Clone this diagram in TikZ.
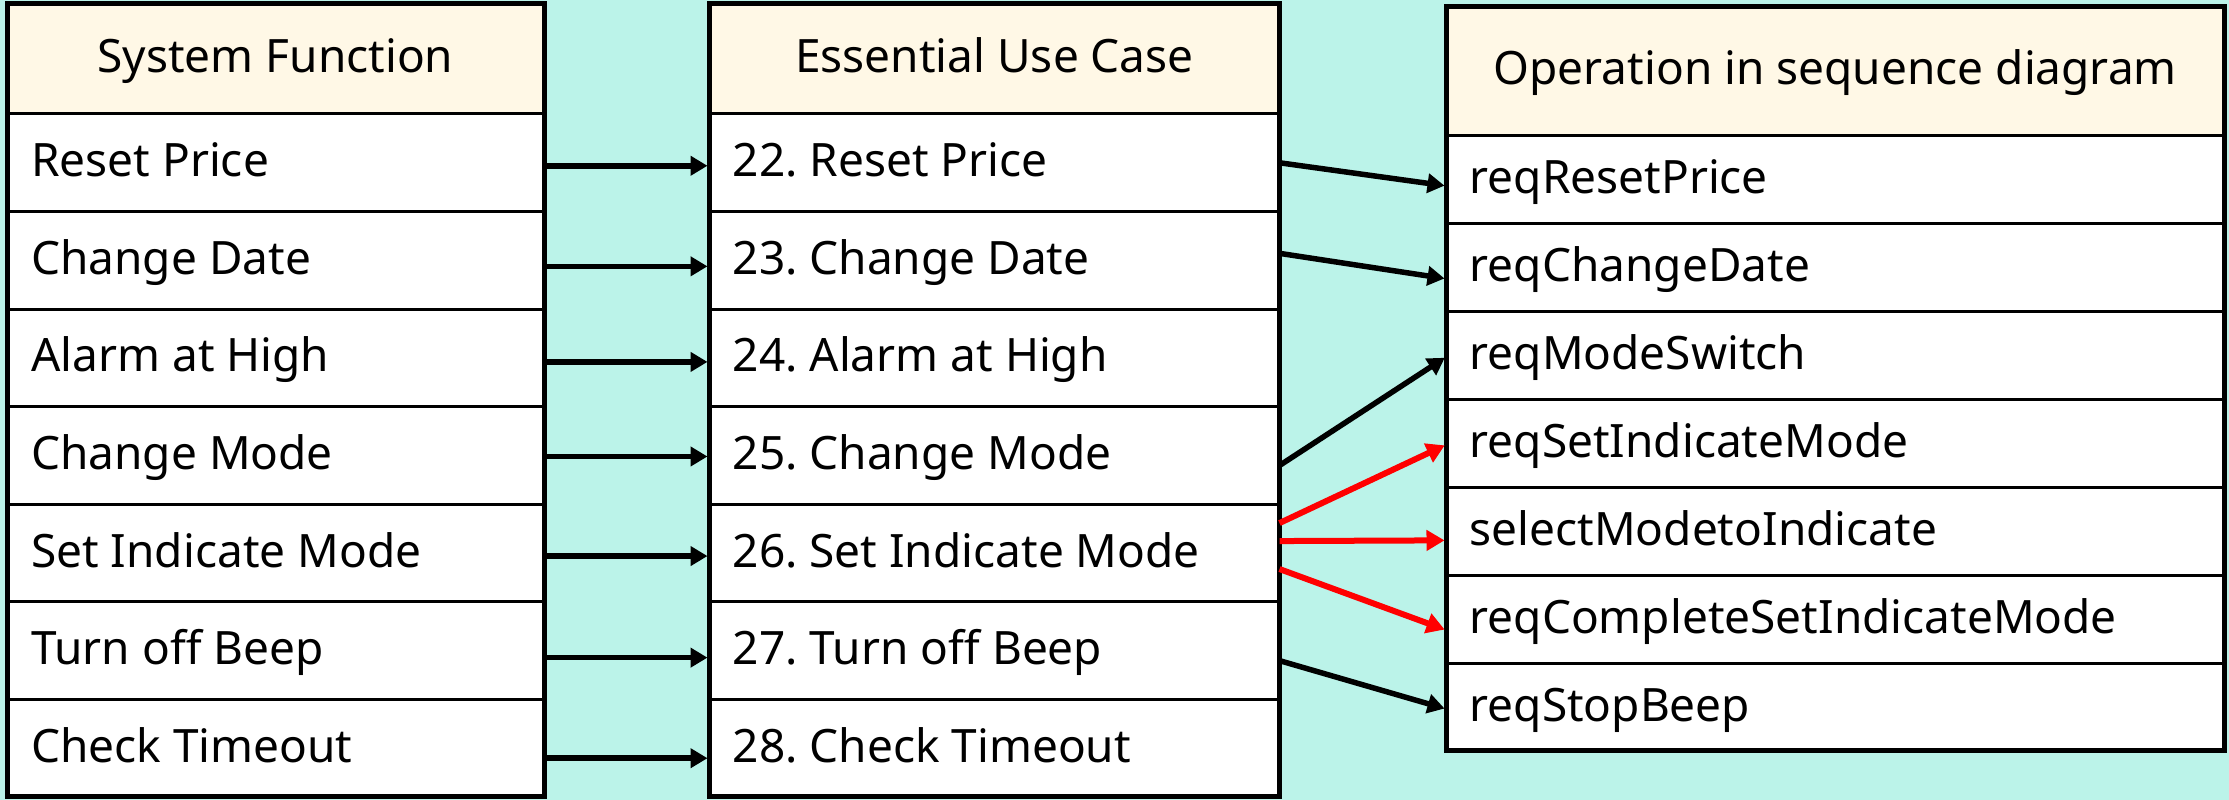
\documentclass[tikz,border=0pt]{standalone}
\usepackage{fontspec}
\setmainfont{Noto Sans}
\usetikzlibrary{arrows.meta,calc}
\definecolor{bgc}{RGB}{187,243,233}
\definecolor{hdr}{RGB}{255,248,230}
\definecolor{redarrow}{RGB}{255,0,0}
\newcommand{\cellfont}{\fontsize{46}{55}\selectfont\frenchspacing}
\begin{document}
\begin{tikzpicture}[x=1pt,y=1pt,
  cell/.style={draw=black, line width=3pt, fill=white, outer sep=0pt, inner sep=0pt, anchor=north west},
  hcell/.style={cell, fill=hdr},
  celltext/.style={font=\cellfont, inner sep=0pt, anchor=base west},
  headtext/.style={font=\cellfont, inner sep=0pt, anchor=base},
  frame/.style={draw=black, line width=5pt},
  conn/.style={draw=black, line width=5.5pt, shorten >=2pt, -{Triangle[length=17pt,width=19pt]}},
  redconn/.style={conn, draw=redarrow, line width=6pt, -{Triangle[length=18pt,width=20pt,fill=redarrow]}},
]
\fill[bgc] (0,0) rectangle (2229,800);
\useasboundingbox (0,0) rectangle (2229,800);

% left table
\node[hcell, minimum width=537pt, minimum height=110pt] (lh) at (7,796) {};
\node[headtext] (lht) at ($(lh.center)+(0,-14)$) {System Function};
\foreach \i/\t in {1/Reset Price, 2/Change Date, 3/Alarm at High, 4/Change Mode, 5/Set Indicate Mode, 6/Turn off Beep, 7/Check Timeout}{
  \node[cell, minimum width=537pt, minimum height=97.57pt] (l\i) at (7,{686-(\i-1)*97.57}) {};
  \node[celltext] (lt\i) at ($(l\i.west)+(24,-14)$) {\t};
}
\draw[frame] (7,796) rectangle (544,3);

% middle table
\node[hcell, minimum width=570pt, minimum height=110pt] (mh) at (709.5,796) {};
\node[headtext] (mht) at ($(mh.center)+(0,-14)$) {Essential Use Case};
\foreach \i/\t in {1/22. Reset Price, 2/23. Change Date, 3/24. Alarm at High, 4/25. Change Mode, 5/26. Set Indicate Mode, 6/27. Turn off Beep, 7/28. Check Timeout}{
  \node[cell, minimum width=570pt, minimum height=97.57pt] (m\i) at (709.5,{686-(\i-1)*97.57}) {};
  \node[celltext] (mt\i) at ($(m\i.west)+(23,-14)$) {\t};
}
\draw[frame] (709.5,796) rectangle (1279.5,3);

% right table
\node[hcell, minimum width=777.5pt, minimum height=129.3pt] (rh) at (1446.5,793.3) {};
\node[headtext] (rht) at ($(rh.center)+(0,-13.6)$) {Operation in sequence diagram};
\foreach \i/\t in {1/reqResetPrice, 2/reqChangeDate, 3/reqModeSwitch, 4/reqSetIndicateMode, 5/selectModetoIndicate, 6/reqCompleteSetIndicateMode, 7/reqStopBeep}{
  \node[cell, minimum width=777.5pt, minimum height=87.86pt] (r\i) at (1446.5,{664-(\i-1)*87.86}) {};
  \node[celltext] (rt\i) at ($(r\i.west)+(23,-14)$) {\t};
}
\draw[frame] (1446.5,793.3) rectangle (2224,49);

% left -> middle
\foreach \i/\s in {1/-3, 2/-6, 3/-4, 4/-1, 5/-3, 6/-7, 7/-10}{
  \draw[conn] ([yshift=\s pt]l\i.east) -- ([yshift=\s pt]m\i.west);
}

% middle -> right
\draw[conn] ([yshift=0pt]m1.east) -- ([yshift=-6pt]r1.west);
\draw[conn] ([yshift=7pt]m2.east) -- ([yshift=-11pt]r2.west);
\draw[conn] ([yshift=-10pt]m4.east) -- ([yshift=-1pt]r3.west);
\draw[redconn] ([yshift=30pt]m5.east) -- ([yshift=-1pt]r4.west);
\draw[redconn] ([yshift=12pt]m5.east) -- ([yshift=-9pt]r5.west);
\draw[redconn] ([yshift=-16pt]m5.east) -- ([yshift=-11pt]r6.west);
\draw[conn] ([yshift=-10pt]m6.east) -- ([yshift=-2pt]r7.west);
\end{tikzpicture}
\end{document}
